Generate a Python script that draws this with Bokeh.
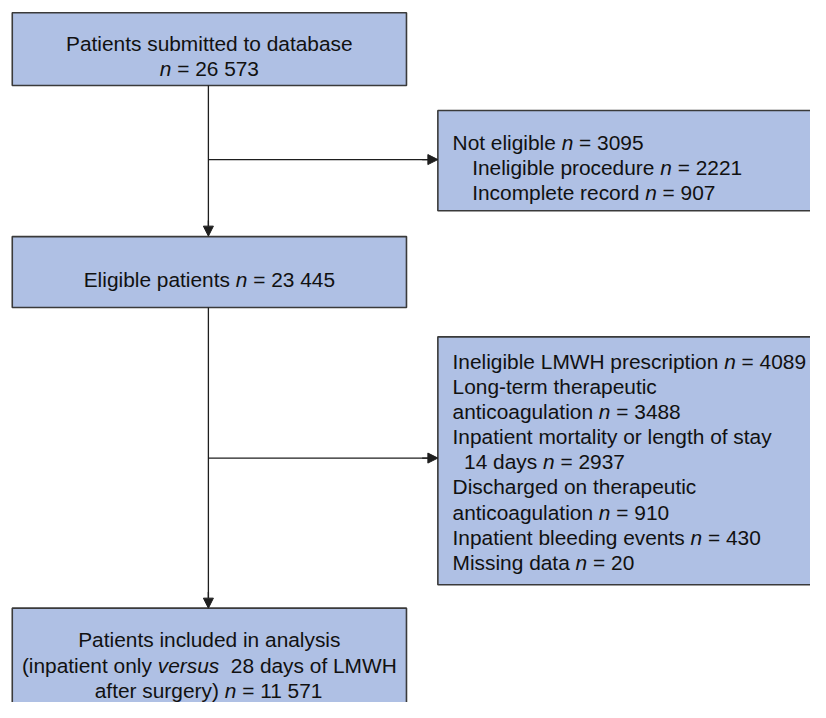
from bokeh.plotting import figure
from bokeh.models import Range1d, ColumnDataSource, Arrow, NormalHead
from bokeh.core.properties import value
from bokeh.embed import file_html
from bokeh.resources import INLINE

# ---- data (counts shown in the flow diagram) ----
submitted_n = 26573
not_eligible_n = 3095
ineligible_procedure_n = 2221
incomplete_record_n = 907
eligible_n = 23445
exclusion_labels = ["Ineligible LMWH prescription",
                    "Long-term therapeutic anticoagulation",
                    "Inpatient mortality or length of stay  14 days",
                    "Discharged on therapeutic anticoagulation",
                    "Inpatient bleeding events",
                    "Missing data"]
exclusion_n = [4089, 3488, 2937, 910, 430, 20]
included_n = 11571

def fmt(v):
    s = str(v)
    if v >= 10000:
        s = s[:-3] + " " + s[-3:]
    return s

# ---- style / layout ----
FONT = "Liberation Sans"
PW, PH = 810, 702          # figure size in screen px
RW, RH = 826, 718          # layout units (reference page px)
SC = PW / RW
FS = 21.3                  # font size in layout units
FILL = "#AFC0E4"
BORDER = "#3a3a3a"
LINEC = "#1e1e1e"
LH = 25.65

# Arial / Liberation Sans advance widths (1/1000 em)
W = {' ': 278, 'a': 556, 'b': 556, 'c': 500, 'd': 556, 'e': 556, 'f': 278, 'g': 556, 'h': 556,
     'i': 222, 'j': 222, 'k': 500, 'l': 222, 'm': 833, 'n': 556, 'o': 556, 'p': 556, 'q': 556,
     'r': 333, 's': 500, 't': 278, 'u': 556, 'v': 500, 'w': 722, 'x': 500, 'y': 500, 'z': 500,
     'A': 667, 'B': 667, 'C': 722, 'D': 722, 'E': 667, 'F': 611, 'G': 778, 'H': 722, 'I': 278,
     'J': 500, 'K': 667, 'L': 556, 'M': 833, 'N': 722, 'O': 778, 'P': 667, 'Q': 778, 'R': 722,
     'S': 667, 'T': 611, 'U': 722, 'V': 667, 'W': 944, 'X': 667, 'Y': 667, 'Z': 611,
     '=': 584, '(': 333, ')': 333, '-': 333, '.': 278, ',': 278}

def tw(s):
    return sum(W.get(c, 556) for c in s) * FS / 1000.0

p = figure(width=PW, height=PH, x_range=Range1d(0, RW), y_range=Range1d(RH, 0),
           output_backend="svg", toolbar_location=None, min_border=0)
p.axis.visible = False
p.grid.visible = False
p.outline_line_color = None
p.background_fill_color = "white"
p.border_fill_color = "white"

# boxes: left, right, top, bottom (layout units)
boxes = dict(left=[12, 446, 12, 446, 12],
             right=[414, 840, 414, 840, 414],
             top=[12.5, 112.5, 241.5, 344, 621.5],
             bottom=[87, 215, 314, 597.5, 740])
p.quad(source=ColumnDataSource(boxes), left="left", right="right", top="top", bottom="bottom",
       fill_color=FILL, line_color=BORDER, line_width=1.6)

# connectors
cx = 212
p.segment(x0=[cx, cx, cx, cx], y0=[87, 162.7, 314, 468],
          x1=[cx, 437, cx, 437], y1=[231, 162.7, 611, 468],
          line_color=LINEC, line_width=1.3)
for (xs, ys, xe, ye) in [(cx, 225, cx, 241), (430, 162.7, 446, 162.7),
                         (cx, 605, cx, 621.5), (430, 468, 446, 468)]:
    p.add_layout(Arrow(end=NormalHead(size=10, fill_color=LINEC, line_color=LINEC),
                       x_start=xs, y_start=ys, x_end=xe, y_end=ye,
                       line_color=LINEC, line_width=1.3))

norm = dict(x=[], y=[], t=[])
ital = dict(x=[], y=[], t=[])

def put(segs, x, y, align="left"):
    total = sum(tw(s) for s, _ in segs)
    if align == "center":
        x = x - total / 2.0
    for s, it in segs:
        lead = len(s) - len(s.lstrip(" "))
        core = s.strip(" ")
        trail = len(s) - lead - len(core)
        x += lead * tw(" ")
        d = ital if it else norm
        d["x"].append(x)
        d["y"].append(y)
        d["t"].append(core)
        x += tw(core) + trail * tw(" ")

def nline(prefix, v):
    segs = []
    if prefix:
        segs.append((prefix, False))
    segs.append(("n", True))
    segs.append((" = " + fmt(v), False))
    return segs

bcx = 213
# box 1
put([("Patients submitted to database", False)], bcx, 44, "center")
put(nline("", submitted_n), bcx, 70, "center")
# box 2
put(nline("Not eligible ", not_eligible_n), 461, 145.5)
put(nline("Ineligible procedure ", ineligible_procedure_n), 481, 171)
put(nline("Incomplete record ", incomplete_record_n), 481, 196.5)
# box 3
put(nline("Eligible patients ", eligible_n), bcx, 285, "center")
# box 4 (wrapped lines)
y0 = 369.3
rows = [
    (nline(exclusion_labels[0] + " ", exclusion_n[0]), 461),
    ([("Long-term therapeutic", False)], 461),
    (nline("anticoagulation ", exclusion_n[1]), 461),
    ([("Inpatient mortality or length of stay", False)], 461),
    (nline("14 days ", exclusion_n[2]), 472.7),
    ([("Discharged on therapeutic", False)], 461),
    (nline("anticoagulation ", exclusion_n[3]), 461),
    (nline(exclusion_labels[4] + " ", exclusion_n[4]), 461),
    (nline(exclusion_labels[5] + " ", exclusion_n[5]), 461),
]
for k, (segs, x) in enumerate(rows):
    put(segs, x, y0 + k * LH)
# box 5
put([("Patients included in analysis", False)], bcx, 654, "center")
put([("(inpatient only ", False), ("versus", True), ("  28 days of LMWH", False)], bcx, 680, "center")
put(nline("after surgery) ", included_n), bcx, 706, "center")

fs_px = f"{FS * SC:.2f}px"
p.text(source=ColumnDataSource(norm), x="x", y="y", text="t", text_font=value(FONT),
       text_font_size=fs_px, text_color="#111111", text_align="left",
       text_baseline="alphabetic")
p.text(source=ColumnDataSource(ital), x="x", y="y", text="t", text_font=value(FONT),
       text_font_size=fs_px, text_font_style="italic", text_color="#111111",
       text_align="left", text_baseline="alphabetic")

open("out.html", "w").write(file_html(p, INLINE))
